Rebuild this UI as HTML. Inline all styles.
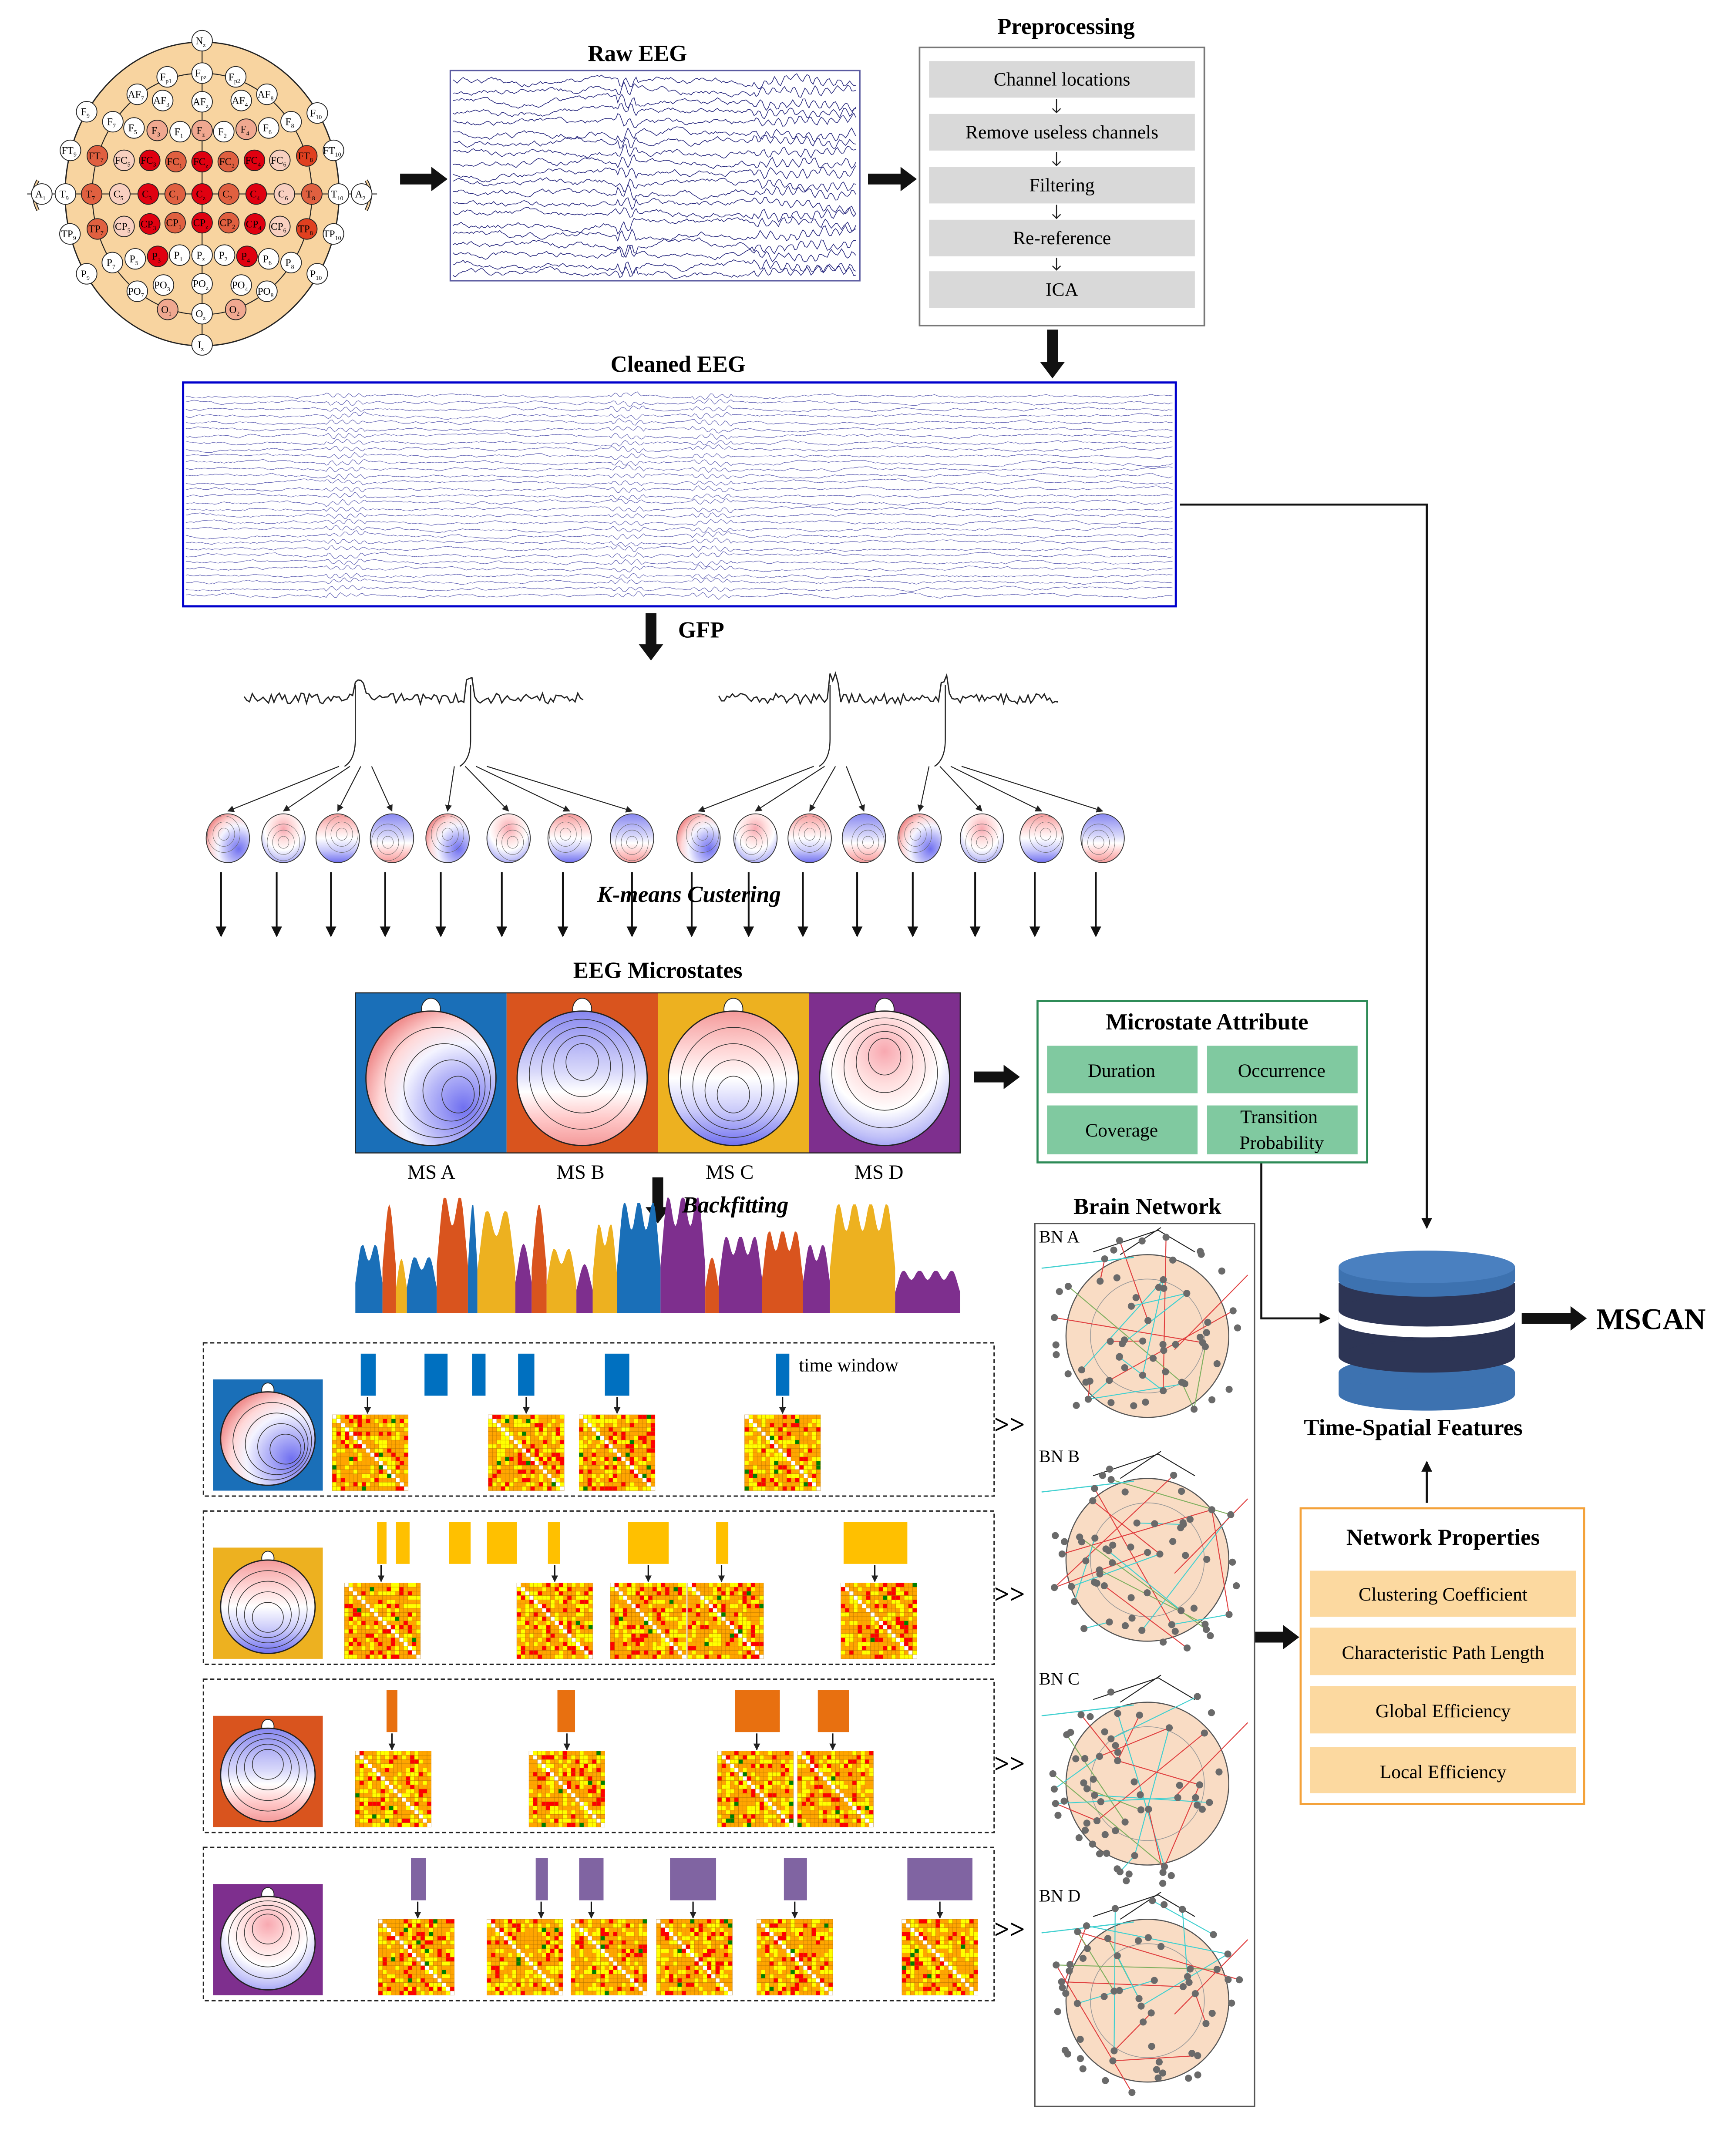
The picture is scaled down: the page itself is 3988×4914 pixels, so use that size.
<!DOCTYPE html>
<html><head><meta charset="utf-8">
<style>
html,body{margin:0;padding:0;background:#fff;}
svg{display:block;}
text{font-family:"Liberation Serif",serif;}
</style></head>
<body>
<svg id="s" xmlns="http://www.w3.org/2000/svg" width="3988" height="4914" viewBox="0 0 1280 1577" preserveAspectRatio="none">
<defs>
<marker id="ah" markerWidth="8" markerHeight="8" refX="7" refY="4" orient="auto" markerUnits="userSpaceOnUse"><path d="M0,0 L8,4 L0,8 Z" fill="#111"/></marker>
<marker id="ahs" markerWidth="5" markerHeight="5" refX="4.5" refY="2.5" orient="auto" markerUnits="userSpaceOnUse"><path d="M0,0 L5,2.5 L0,5 Z" fill="#222"/></marker>
<radialGradient id="gA" cx="75%" cy="72%" r="80%"><stop offset="0" stop-color="#7070f0"/><stop offset="0.35" stop-color="#b8b8f8"/><stop offset="0.6" stop-color="#f4f4ff"/><stop offset="0.8" stop-color="#ffd8d8"/><stop offset="1" stop-color="#f09090"/></radialGradient>
<linearGradient id="gB" x1="0" y1="0" x2="0" y2="1"><stop offset="0" stop-color="#8888f0"/><stop offset="0.45" stop-color="#d8d8fa"/><stop offset="0.6" stop-color="#fff"/><stop offset="0.8" stop-color="#ffc8c8"/><stop offset="1" stop-color="#f49a9a"/></linearGradient>
<linearGradient id="gC" x1="0" y1="0" x2="0" y2="1"><stop offset="0" stop-color="#f49a9a"/><stop offset="0.3" stop-color="#ffd8d8"/><stop offset="0.5" stop-color="#fff"/><stop offset="0.75" stop-color="#c8c8fa"/><stop offset="1" stop-color="#7070f0"/></linearGradient>
<radialGradient id="gD" cx="50%" cy="30%" r="80%"><stop offset="0" stop-color="#f8a8b0"/><stop offset="0.3" stop-color="#ffdede"/><stop offset="0.55" stop-color="#fff"/><stop offset="0.8" stop-color="#c0c0f8"/><stop offset="1" stop-color="#8080f0"/></radialGradient>
</defs>
<g id="g"></g>

<text x="470" y="45" font-size="17" font-weight="bold" text-anchor="middle">Raw EEG</text>
<text x="786" y="25" font-size="17" font-weight="bold" text-anchor="middle">Preprocessing</text>
<rect x="678" y="35" width="210" height="205" fill="none" stroke="#777" stroke-width="1.2"/>
<g fill="#d9d9d9"><rect x="685" y="45" width="196" height="27"/><rect x="685" y="84" width="196" height="27"/><rect x="685" y="123" width="196" height="27"/><rect x="685" y="162" width="196" height="27"/><rect x="685" y="200" width="196" height="27"/></g>
<g font-size="14" text-anchor="middle"><text x="783" y="63">Channel locations</text><text x="783" y="102">Remove useless channels</text><text x="783" y="141">Filtering</text><text x="783" y="180">Re-reference</text><text x="783" y="218">ICA</text></g>
<g stroke="#222" stroke-width="0.8" fill="none"><path d="M779,73 V83 M776,80 L779,83 L782,80 M779,112 V122 M776,119 L779,122 L782,119 M779,151 V161 M776,158 L779,161 L782,158 M779,190 V199 M776,196 L779,199 L782,196"/></g>
<text x="500" y="274" font-size="17" font-weight="bold" text-anchor="middle">Cleaned EEG</text>
<text x="500" y="470" font-size="17" font-weight="bold">GFP</text>
<text x="508" y="665" font-size="17" font-weight="bold" font-style="italic" text-anchor="middle">K-means Custering</text>
<text x="485" y="721" font-size="17" font-weight="bold" text-anchor="middle">EEG Microstates</text>
<g font-size="15" text-anchor="middle"><text x="318" y="869">MS A</text><text x="428" y="869">MS B</text><text x="538" y="869">MS C</text><text x="648" y="869">MS D</text></g>
<text x="503" y="894" font-size="17" font-weight="bold" font-style="italic">Backfitting</text>

<rect x="765" y="738" width="243" height="119" fill="none" stroke="#2e8b57" stroke-width="1.5"/>
<text x="890" y="759" font-size="17" font-weight="bold" text-anchor="middle">Microstate Attribute</text>
<g fill="#80c9a0"><rect x="772" y="771" width="111" height="35"/><rect x="890" y="771" width="111" height="35"/><rect x="772" y="815" width="111" height="36"/><rect x="890" y="815" width="111" height="36"/></g>
<g font-size="14" text-anchor="middle"><text x="827" y="794">Duration</text><text x="945" y="794">Occurrence</text><text x="827" y="838">Coverage</text><text x="943" y="828">Transition</text><text x="945" y="847">Probability</text></g>

<text x="846" y="895" font-size="17" font-weight="bold" text-anchor="middle">Brain Network</text>
<rect x="763" y="902" width="162" height="651" fill="none" stroke="#555" stroke-width="1"/>
<g font-size="13"><text x="766" y="916">BN A</text><text x="766" y="1078">BN B</text><text x="766" y="1242">BN C</text><text x="766" y="1402">BN D</text></g>
<g font-size="20" font-weight="bold"><text x="733" y="1057">&gt;&gt;</text><text x="733" y="1182">&gt;&gt;</text><text x="733" y="1307">&gt;&gt;</text><text x="733" y="1429">&gt;&gt;</text></g>

<text x="1042" y="1058" font-size="17" font-weight="bold" text-anchor="middle">Time-Spatial Features</text>
<text x="1177" y="980" font-size="22" font-weight="bold">MSCAN</text>

<rect x="959" y="1112" width="209" height="218" fill="none" stroke="#f4a23a" stroke-width="1.5"/>
<text x="1064" y="1139" font-size="17" font-weight="bold" text-anchor="middle">Network Properties</text>
<g fill="#fcd9a0"><rect x="966" y="1158" width="196" height="34"/><rect x="966" y="1200" width="196" height="35"/><rect x="966" y="1243" width="196" height="35"/><rect x="966" y="1288" width="196" height="34"/></g>
<g font-size="14" text-anchor="middle"><text x="1064" y="1180">Clustering Coefficient</text><text x="1064" y="1223">Characteristic Path Length</text><text x="1064" y="1266">Global Efficiency</text><text x="1064" y="1311">Local Efficiency</text></g>
<text x="589" y="1011" font-size="14">time window</text>
</svg>
<script>
(function(){
var NS="http://www.w3.org/2000/svg",G=document.getElementById("g");
var seed=12345;function R(){seed=(seed*16807)%2147483647;return seed/2147483647;}
function el(t,a,p){var e=document.createElementNS(NS,t);for(var k in a)e.setAttribute(k,a[k]);(p||G).appendChild(e);return e;}
function arrowThick(x1,y1,x2,y2){
 var dx=x2-x1,dy=y2-y1,L=Math.hypot(dx,dy),ux=dx/L,uy=dy/L,px=-uy,py=ux,w=4,h=9,hl=12;
 var bx=x2-ux*hl,by=y2-uy*hl;
 var pts=[[x1+px*w,y1+py*w],[bx+px*w,by+py*w],[bx+px*h,by+py*h],[x2,y2],[bx-px*h,by-py*h],[bx-px*w,by-py*w],[x1-px*w,y1-py*w]];
 el("polygon",{points:pts.map(function(p){return p.join(",")}).join(" "),fill:"#111"});}
var head=el("g",{});
el("path",{d:"M139,36 L149,24 L159,36 Z",fill:"#f8d4a0",stroke:"#222","stroke-width":0.8},head);
el("ellipse",{cx:149,cy:143,rx:101,ry:112,fill:"#f8d4a0",stroke:"#222","stroke-width":0.9},head);
el("ellipse",{cx:149,cy:143,rx:81,ry:89,fill:"none",stroke:"#222","stroke-width":0.7},head);
el("path",{d:"M28,133 q-6,10 0,22 M270,133 q6,10 0,22",fill:"none",stroke:"#222","stroke-width":2.5},head);
el("path",{d:"M28,133 q-6,10 0,22 M270,133 q6,10 0,22",fill:"none",stroke:"#f8d4a0","stroke-width":1.2},head);
el("line",{x1:149,y1:30,x2:149,y2:253,stroke:"#222","stroke-width":0.7},head);
el("line",{x1:20,y1:143,x2:278,y2:143,stroke:"#222","stroke-width":0.7},head);
var W="#fff",Lt="#f0a890",M="#e06040",P="#f8d0c0",Rd="#e00010";
var E=[["Nz",738,160,W],["Fpz",738,290,W],["Fp1",598,305,W],["Fp2",873,305,W],["AF7",478,375,W],["AF3",580,400,W],["AFz",738,405,W],["AF4",895,400,W],["AF8",998,375,W],["F9",275,445,W],["F7",380,485,W],["F5",465,510,W],["F3",558,520,Lt],["F1",650,525,W],["Fz",738,520,Lt],["F2",825,525,W],["F4",915,515,Lt],["F6",1005,510,W],["F8",1095,485,W],["F10",1200,450,W],["FT9",210,600,W],["FT7",318,622,M],["FC5",425,640,P],["FC3",528,640,Rd],["FC1",633,645,M],["FCz",738,645,Rd],["FC2",843,645,M],["FC4",948,640,Rd],["FC6",1050,640,P],["FT8",1158,622,"#e04020"],["FT10",1265,600,W],["A1",95,775,W],["T9",190,775,W],["T7",295,775,M],["C5",408,775,P],["C3",522,775,Rd],["C1",630,775,M],["Cz",738,775,Rd],["C2",845,775,M],["C4",955,775,Rd],["C6",1068,775,P],["T8",1178,775,M],["T10",1285,775,W],["A2",1378,775,W],["TP9",208,935,W],["TP7",318,915,M],["CP5",425,905,P],["CP3",528,895,Rd],["CP1",630,890,M],["CPz",738,890,Rd],["CP2",845,890,M],["CP4",950,895,Rd],["CP6",1050,905,P],["TP8",1158,915,"#e04020"],["TP10",1265,935,W],["P9",275,1095,W],["P7",378,1050,W],["P5",470,1035,W],["P3",560,1025,Rd],["P1",648,1020,W],["Pz",738,1020,W],["P2",828,1020,W],["P4",918,1025,Rd],["P6",1005,1035,W],["P8",1095,1050,W],["P10",1200,1095,W],["PO7",478,1165,W],["PO3",583,1140,W],["POz",738,1135,W],["PO4",895,1140,W],["PO8",998,1165,W],["O1",600,1238,Lt],["Oz",738,1255,W],["O2",873,1238,Lt],["Iz",738,1380,W]];
E.forEach(function(e){var x=149+(e[1]-738)/5.44,y=30+(e[2]-160)/5.44;
 el("circle",{cx:x,cy:y,r:7.6,fill:e[3],stroke:"#222","stroke-width":0.6},head);
 var m=e[0].match(/^([A-Z]+)(.*)$/),t=el("text",{x:x-1,y:y+2.5,"font-size":7.5,"text-anchor":"middle"},head);
 t.textContent=m[1]; if(m[2]){var s=el("tspan",{"font-size":4.5,dy:2},t);s.textContent=m[2];}});
arrowThick(295,132,330,132);arrowThick(640,132,676,132);arrowThick(776,243,776,279);arrowThick(480,452,480,487);
arrowThick(718,794,752,794);arrowThick(485,868,485,902);arrowThick(925,1207,958,1207);
el("rect",{x:332,y:52,width:302,height:155,fill:"#fff",stroke:"#5a5aa0","stroke-width":1});
function traces(x0,x1,y0,n,gap,amp,col,sw,burst){for(var i=0;i<n;i++){var y=y0+i*gap,v=0,d="";for(var x=x0;x<=x1;x+=1.5){v=v*0.9+(R()-0.5)*amp;var b=0;if(burst)burst.forEach(function(bb){if(x>bb[0]&&x<bb[1])b=Math.sin(x*0.8+i)*bb[2]*0.5;});d+=(x==x0?"M":"L")+x.toFixed(1)+","+(y+v+b).toFixed(1);}el("path",{d:d,fill:"none",stroke:col,"stroke-width":sw});}}
traces(334,632,60,20,7.5,3,"#2b2b80",0.5,[[455,470,8],[555,632,5]]);
el("rect",{x:135,y:282,width:732,height:165,fill:"none",stroke:"#0000cc","stroke-width":1.6});
traces(137,865,292,31,4.9,1.2,"#6a6ab8",0.4,[[240,270,3],[450,475,3],[510,540,3]]);
el("path",{d:"M870,372 H1052 V905",fill:"none",stroke:"#111","stroke-width":1.5,"marker-end":"url(#ah)"});
function gfp(x0,x1,yb){var d="";for(var x=x0;x<=x1;x+=2){var y=yb+(R()-0.5)*8-(Math.abs(x-(x0+85))<4?15:0)-(Math.abs(x-(x0+166))<4?15:0);d+=(x==x0?"M":"L")+x+","+y.toFixed(1);}el("path",{d:d,fill:"none",stroke:"#222","stroke-width":0.9});}
gfp(180,430,515);gfp(530,780,515);
var hx=[168,209,249,289,330,375,420,466,515,557,597,637,678,724,768,813];
function tree(ax,bx,heads){el("path",{d:"M"+ax+",505 V545 q0,15 -8,20 M"+bx+",505 V545 q0,15 -8,20",fill:"none",stroke:"#222","stroke-width":0.8});
 heads.forEach(function(h,i){var sx=(i<4?ax:bx)+(i%4-1.5)*8,sy=565;el("line",{x1:sx,y1:sy,x2:h,y2:598,stroke:"#222","stroke-width":0.7,"marker-end":"url(#ahs)"});});}
tree(262,347,hx.slice(0,8));tree(612,697,hx.slice(8));
var fills=["url(#gA)","url(#gB)","url(#gC)","url(#gD)"];
hx.forEach(function(x,i){el("ellipse",{cx:x,cy:618,rx:16,ry:18,fill:fills[(i*3)%4],stroke:"#333","stroke-width":0.6});
 for(var k=1;k<4;k++)el("ellipse",{cx:x+((i%3)-1)*3,cy:618+((i%2)?3:-3),rx:16-k*4,ry:18-k*4.5,fill:"none",stroke:"#666","stroke-width":0.3});
 el("line",{x1:x+(i==7?0:-5),y1:643,x2:x+(i==7?0:-5),y2:690,stroke:"#111","stroke-width":1.3,"marker-end":"url(#ah)"});});
var MC=["#1a6fb8","#d9541e","#edb120","#7e2f8e"],MF=["url(#gA)","url(#gB)","url(#gC)","url(#gD)"];
function msHead(x,y,w,h,bg,f,sc){el("rect",{x:x,y:y,width:w,height:h,fill:bg});var cx=x+w/2,cy=y+h/2+4*sc;
 el("ellipse",{cx:cx,cy:y+12*sc,rx:7*sc,ry:8*sc,fill:"#fff",stroke:"#222","stroke-width":0.6});
 el("ellipse",{cx:cx,cy:cy,rx:w*0.43,ry:h*0.42,fill:f,stroke:"#222","stroke-width":0.9});
 for(var k=1;k<5;k++)el("ellipse",{cx:cx+(f==MF[0]?k*5*sc:0),cy:cy+(f==MF[3]?-k*4*sc:(f==MF[1]?-k*3*sc:k*3*sc)),rx:w*0.43-k*9*sc,ry:h*0.42-k*9*sc,fill:"none",stroke:"#333","stroke-width":0.5});}
for(var i=0;i<4;i++)msHead(262+i*111.5,732,111.5,118,MC[i],MF[i],1);
el("rect",{x:262,y:732,width:446,height:118,fill:"none",stroke:"#222","stroke-width":0.8});
el("path",{d:"M930,857 V972 H980",fill:"none",stroke:"#111","stroke-width":1.5,"marker-end":"url(#ah)"});
var segs=[[262,282,0],[282,292,1],[292,300,2],[300,322,0],[322,345,1],[345,352,0],[352,380,2],[380,392,3],[392,403,1],[403,425,2],[425,437,3],[437,455,2],[455,487,0],[487,520,3],[520,530,1],[530,562,3],[562,592,1],[592,612,3],[612,660,2],[660,708,3]];
segs.forEach(function(s){var d="M"+s[0]+",968",n=Math.max(1,Math.round((s[1]-s[0])/12));for(var x=s[0];x<=s[1];x+=1){var t=(x-s[0])/(s[1]-s[0]);var pk=0;for(var j=0;j<n;j++){var c=(j+0.5)/n;pk+=Math.exp(-Math.pow((t-c)*n*2,2));}var hgt=25+((s[0]*7)%55);d+=" L"+x+","+(968-hgt*Math.min(1,pk)-6).toFixed(1);}d+=" L"+s[1]+",968 Z";el("path",{d:d,fill:MC[s[2]]});});
var rows=[[990,MC[0],MF[0],[[266,277],[313,330],[348,358],[382,394],[446,464],[572,582]],[[245,271],[360,388],[427,455],[549,577]]],
[1114,MC[2],MF[2],[[278,285],[292,302],[331,347],[359,381],[404,413],[463,493],[528,537],[622,669]],[[254,281],[381,409],[450,478],[507,532],[620,645]]],
[1238,MC[1],MF[1],[[285,293],[411,424],[542,575],[603,626]],[[262,289],[390,418],[529,558],[588,614]]],
[1362,MC[3],MF[3],[[303,314],[395,404],[427,445],[494,528],[578,595],[669,717]],[[279,308],[359,399],[421,436],[484,511],[558,586],[665,693]]]];
var mcols=["#ffa500","#ffa500","#ffa500","#ff0000","#ffff00","#ffa500","#ffff00"];
rows.forEach(function(r,ri){var y=r[0];el("rect",{x:150,y:y,width:583,height:113,fill:"none",stroke:"#222","stroke-width":1,"stroke-dasharray":"3,2"});
 msHead(157,y+27,81,82,r[1],r[2],0.65);
 var bc=["#0070c0","#ffc000","#e87010","#8064a2"][ri];
 r[3].forEach(function(b){el("rect",{x:b[0],y:y+8,width:b[1]-b[0],height:31,fill:bc});});
 r[4].forEach(function(m){var mx=m[0],my=y+53,sz=56,n=18,c=sz/n;
  for(var a=0;a<n;a++)for(var b=0;b<n;b++){var col=a==b?"#fff":(R()<0.02?"#008000":mcols[Math.floor(R()*mcols.length)]);el("rect",{x:mx+b*c,y:my+a*c,width:c,height:c,fill:col,stroke:"#b07000","stroke-width":0.15});}
  el("line",{x1:m[1],y1:y+40,x2:m[1],y2:y+52,stroke:"#111","stroke-width":1,"marker-end":"url(#ahs)"});});});
[985,1150,1315,1475].forEach(function(cy,ni){var cx=846;
 el("path",{d:"M"+(cx-40)+","+(cy-62)+" L"+(cx+8)+","+(cy-78)+" L"+(cx+35)+","+(cy-62)+" M"+(cx-20)+","+(cy-60)+" L"+(cx+10)+","+(cy-80),stroke:"#222","stroke-width":0.7,fill:"none"});
 el("circle",{cx:cx,cy:cy,r:60,fill:"#f9dcc4",stroke:"#555","stroke-width":0.8});
 el("circle",{cx:cx,cy:cy,r:42,fill:"none",stroke:"#999","stroke-width":0.5});
 var nodes=[];for(var i=0;i<60;i++){var a=R()*6.283,rr=Math.sqrt(R())*72;nodes.push([cx+Math.cos(a)*rr,cy+Math.sin(a)*rr*1.05]);}
 var lc=["#e04040","#40d0d0","#e04040","#80b060","#40d0d0"];
 for(var i=0;i<18;i++){var p=nodes[Math.floor(R()*60)],q=nodes[Math.floor(R()*60)];el("line",{x1:p[0],y1:p[1],x2:q[0],y2:q[1],stroke:lc[i%5],"stroke-width":0.7});}
 el("line",{x1:768,y1:cy-50,x2:cx-10,y2:cy-58,stroke:"#40d0d0","stroke-width":0.8});
 el("line",{x1:cx+20,y1:cy+10,x2:920,y2:cy-45,stroke:"#e04040","stroke-width":0.7});
 nodes.forEach(function(p){el("circle",{cx:p[0],cy:p[1],r:2.6,fill:"#6a6a6a"});});});
var dx=1052;
el("rect",{x:dx-65,y:1012,width:130,height:16,fill:"#3d72b0"});el("ellipse",{cx:dx,cy:1028,rx:65,ry:12,fill:"#3d72b0"});el("ellipse",{cx:dx,cy:1012,rx:65,ry:12,fill:"#3d72b0"});
el("rect",{x:dx-65,y:966,width:130,height:34,fill:"#2d3555"});el("ellipse",{cx:dx,cy:1000,rx:65,ry:12,fill:"#2d3555"});
el("ellipse",{cx:dx,cy:974,rx:65,ry:12,fill:"#fff"});el("rect",{x:dx-65,y:966,width:130,height:8,fill:"#fff"});
el("rect",{x:dx-65,y:946,width:130,height:20,fill:"#2d3555"});el("ellipse",{cx:dx,cy:966,rx:65,ry:12,fill:"#2d3555"});
el("rect",{x:dx-65,y:934,width:130,height:10,fill:"#3d72b0"});el("ellipse",{cx:dx,cy:944,rx:65,ry:12,fill:"#3d72b0"});
el("ellipse",{cx:dx,cy:934,rx:65,ry:12,fill:"#4a80c0"});
arrowThick(1122,972,1170,972);
el("line",{x1:1052,y1:1108,x2:1052,y2:1078,stroke:"#111","stroke-width":1.5,"marker-end":"url(#ah)"});
var s=document.getElementById("s");s.appendChild(G);var texts=[].slice.call(s.children).filter(function(n){return n!==G&&n.tagName!=="defs";});texts.forEach(function(n){s.appendChild(n);});
})();
</script>
</body></html>
